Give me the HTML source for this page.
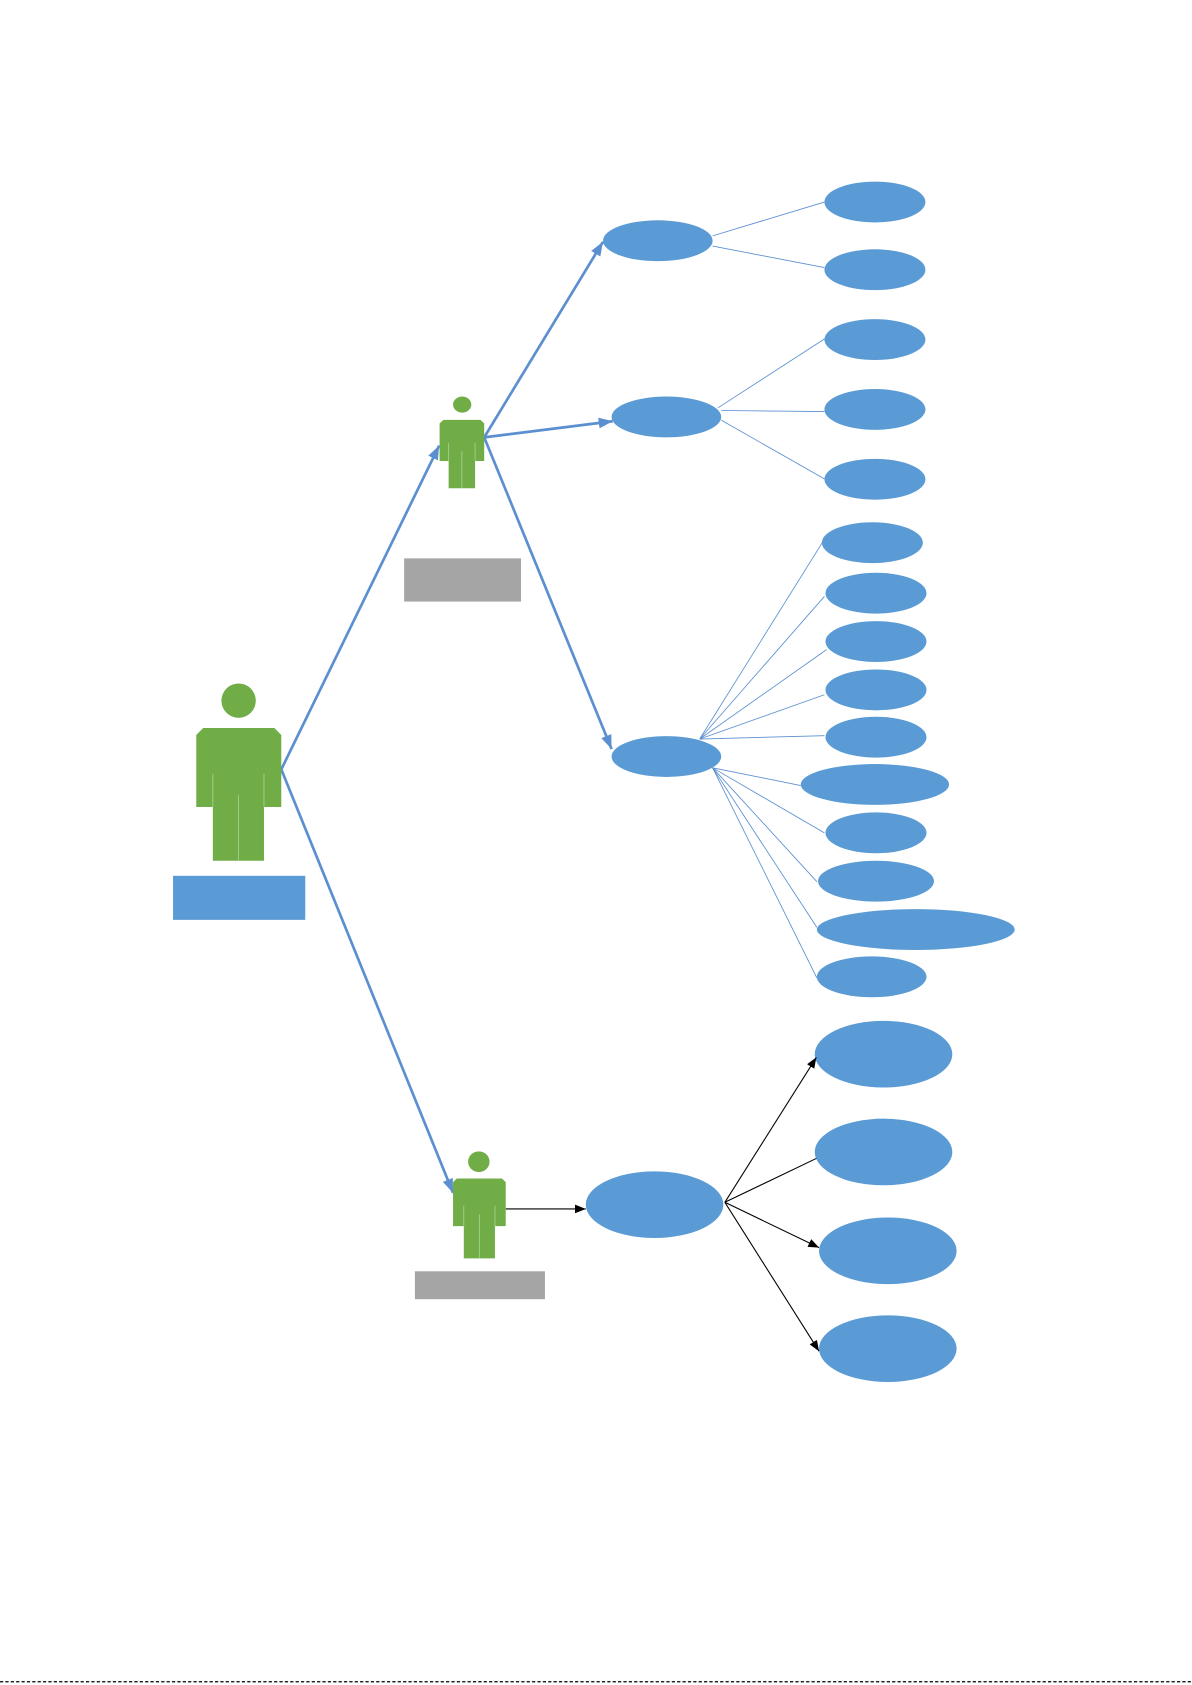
<!DOCTYPE html>
<html><head><meta charset="utf-8"><style>
html,body{margin:0;padding:0;background:#fff;}
svg{display:block;}
</style></head><body>
<svg width="1192" height="1685" viewBox="0 0 1109 1568" preserveAspectRatio="none" xmlns="http://www.w3.org/2000/svg">
<defs>
<marker id="ab" markerUnits="userSpaceOnUse" markerWidth="14" markerHeight="12" refX="13" refY="5" orient="auto"><path d="M0,0 L13,5 L0,10 Z" fill="#5B8FD0"/></marker>
<marker id="ak" markerUnits="userSpaceOnUse" markerWidth="12" markerHeight="10" refX="10" refY="4" orient="auto"><path d="M0,0 L10,4 L0,8 Z" fill="#000"/></marker>
</defs>
<g fill="#5B9BD5">
<ellipse cx="612" cy="224" rx="51" ry="19"/>
<ellipse cx="620" cy="388" rx="51" ry="19"/>
<ellipse cx="620" cy="704" rx="51" ry="19"/>
<ellipse cx="814" cy="188" rx="47" ry="19"/>
<ellipse cx="814" cy="251" rx="47" ry="19"/>
<ellipse cx="814" cy="316" rx="47" ry="19"/>
<ellipse cx="814" cy="381" rx="47" ry="19"/>
<ellipse cx="814" cy="446" rx="47" ry="19"/>
<ellipse cx="811.6" cy="505" rx="47" ry="19"/>
<ellipse cx="815" cy="552" rx="47" ry="19"/>
<ellipse cx="815" cy="597" rx="47" ry="19"/>
<ellipse cx="815" cy="642" rx="47" ry="19"/>
<ellipse cx="815" cy="686" rx="47" ry="19"/>
<ellipse cx="814" cy="730" rx="69" ry="19"/>
<ellipse cx="815" cy="775" rx="47" ry="19"/>
<ellipse cx="815" cy="820" rx="54" ry="19"/>
<ellipse cx="852" cy="865" rx="92" ry="19"/>
<ellipse cx="811" cy="909" rx="51" ry="19"/>
<ellipse cx="609" cy="1121" rx="64" ry="31"/>
<ellipse cx="822" cy="981" rx="64" ry="31"/>
<ellipse cx="822" cy="1072" rx="64" ry="31"/>
<ellipse cx="826" cy="1164" rx="64" ry="31"/>
<ellipse cx="826" cy="1255" rx="64" ry="31"/>
</g>
<g stroke="#5B8FD0" stroke-width="0.8" fill="none">
<line x1="663" y1="219.5" x2="767" y2="188"/>
<line x1="663" y1="229" x2="767" y2="249"/>
<line x1="668" y1="379.5" x2="767" y2="315.5"/>
<line x1="671" y1="382" x2="767" y2="383"/>
<line x1="671" y1="391" x2="767" y2="445.6"/>
<line x1="651" y1="687.7" x2="765" y2="505"/>
<line x1="651" y1="687.7" x2="767" y2="555"/>
<line x1="651" y1="687.7" x2="769" y2="604.5"/>
<line x1="651" y1="687.7" x2="767" y2="646.5"/>
<line x1="651" y1="687.7" x2="767" y2="684.6"/>
<line x1="663" y1="714.5" x2="745" y2="731"/>
<line x1="663" y1="714.5" x2="767" y2="775"/>
<line x1="663" y1="714.5" x2="760" y2="820.5"/>
<line x1="663" y1="714.5" x2="760" y2="863"/>
<line x1="663" y1="714.5" x2="760" y2="910"/>
</g>
<g stroke="#5B8FD0" stroke-width="2.5" fill="none">
<line x1="450.5" y1="407" x2="561" y2="225" marker-end="url(#ab)"/>
<line x1="450.5" y1="407" x2="570" y2="392" marker-end="url(#ab)"/>
<line x1="450.5" y1="407" x2="569" y2="697" marker-end="url(#ab)"/>
<line x1="261.7" y1="716" x2="408.6" y2="414.6" marker-end="url(#ab)"/>
<line x1="261.7" y1="716" x2="421.5" y2="1110" marker-end="url(#ab)"/>
</g>
<g stroke="#000" stroke-width="1" fill="none">
<line x1="470.5" y1="1125" x2="545" y2="1125" marker-end="url(#ak)"/>
<line x1="674.4" y1="1118.8" x2="759.5" y2="984" marker-end="url(#ak)"/>
<line x1="674.4" y1="1118.8" x2="759.5" y2="1078"/>
<line x1="674.4" y1="1118.8" x2="762" y2="1161" marker-end="url(#ak)"/>
<line x1="674.4" y1="1118.8" x2="762" y2="1257.4" marker-end="url(#ak)"/>
</g>
<g fill="#70AD47">
<ellipse cx="222" cy="652" rx="16" ry="16"/>
<path d="M182.6,684 L189,677.5 L255.3,677.5 L261.7,684 L261.7,751 L245.6,751 L245.6,801 L198,801 L198,751 L182.6,751 Z"/>
<ellipse cx="430" cy="376.5" rx="8.5" ry="7.5"/>
<path d="M409,394 L412.5,390.7 L447,390.7 L450.5,394 L450.5,429 L442,429 L442,454.4 L417.4,454.4 L417.4,429 L409,429 Z"/>
<ellipse cx="445.5" cy="1081" rx="10" ry="9.6"/>
<path d="M421.5,1100 L425,1096.7 L467,1096.7 L470.5,1100 L470.5,1141 L460.5,1141 L460.5,1171 L431.5,1171 L431.5,1141 L421.5,1141 Z"/>
</g>
<g stroke="#A9D18E" stroke-width="0.8">
<line x1="198" y1="720" x2="198" y2="751"/><line x1="245.6" y1="720" x2="245.6" y2="751"/><line x1="221.8" y1="740" x2="221.8" y2="801"/>
<line x1="417.4" y1="412" x2="417.4" y2="429"/><line x1="442" y1="412" x2="442" y2="429"/><line x1="429.7" y1="420" x2="429.7" y2="454"/>
<line x1="431.5" y1="1122" x2="431.5" y2="1141"/><line x1="460.5" y1="1122" x2="460.5" y2="1141"/><line x1="446" y1="1130" x2="446" y2="1171"/>
</g>
<rect x="161" y="815" width="123" height="41" fill="#5B9BD5"/>
<rect x="376" y="519.6" width="108.7" height="40.2" fill="#A5A5A5"/>
<rect x="386" y="1183" width="121" height="26" fill="#A5A5A5"/>
<line x1="0" y1="1565" x2="1109" y2="1565" stroke="#000" stroke-width="1.2" stroke-dasharray="3,2"/>
</svg>
</body></html>
